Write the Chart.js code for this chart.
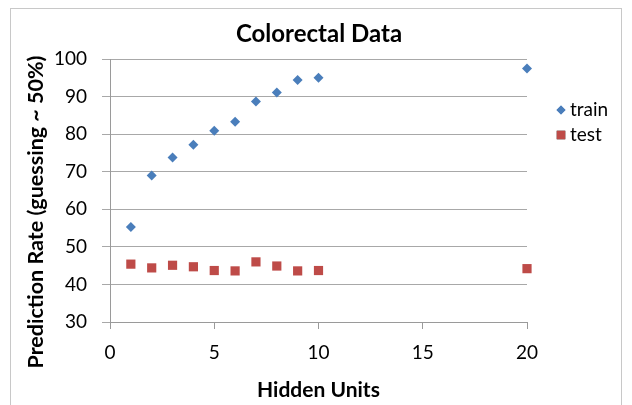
<!DOCTYPE html>
<html>
<head>
<meta charset="utf-8">
<script src="https://cdn.jsdelivr.net/npm/chart.js@4"></script>
<style>
  html, body { margin: 0; padding: 0; background: #fff; }
  #wrap { width: 632px; height: 405px; }
</style>
</head>
<body>
<div id="wrap"><canvas id="chart" width="632" height="405"></canvas></div>
<script>
// Hidden units on the x axis
const hiddenUnits = [1, 2, 3, 4, 5, 6, 7, 8, 9, 10, 20];
// Prediction rate (%)
const trainRate = [55.3, 69.0, 73.8, 77.2, 80.9, 83.3, 88.7, 91.1, 94.4, 95.0, 97.5];
const testRate = [45.4, 44.4, 45.1, 44.7, 43.7, 43.6, 46.0, 44.9, 43.6, 43.7, 44.2];
const seriesNames = ['train', 'test'];
const chartTitle = 'Colorectal Data';
const yTitle = 'Prediction Rate (guessing ~ 50%)';

const FONT = 'Lato, "Open Sans", sans-serif';

function toPoints(xs, ys) {
    return xs.map((x, i) => ({ x: x, y: ys[i] }));
}

// Frame round the whole chart, the title and the y axis title
// (Excel puts these a little off the plot centre, so they are drawn by hand)
const framePlugin = {
    id: 'frame',
    beforeDraw(chart) {
        const ctx = chart.ctx;
        ctx.save();
        ctx.strokeStyle = '#c8c8c8';
        ctx.lineWidth = 1;
        ctx.strokeRect(10.5, 8.5, 611, 420);
        ctx.fillStyle = '#000';
        ctx.font = 'bold 24px ' + FONT;
        ctx.textAlign = 'center';
        ctx.textBaseline = 'middle';
        ctx.fillText(chartTitle, 319, 34);

        ctx.translate(36, 212);
        ctx.rotate(-Math.PI / 2);
        ctx.font = 'bold 21.5px ' + FONT;
        ctx.fillText(yTitle, 0, 0);
        ctx.restore();
    }
};

// Legend on the right, drawn with each dataset's own marker style
const sideLegend = {
    id: 'sideLegend',
    afterDraw(chart) {
        const ctx = chart.ctx;
        ctx.save();
        chart.data.datasets.forEach((ds, i) => {
            const y = 110 + i * 25;
            Chart.helpers.drawPoint(ctx, {
                pointStyle: ds.pointStyle,
                radius: ds.pointStyle === 'rect' ? 6 : 4.5,
                borderWidth: 0
            }, 561, y);
            ctx.fillStyle = ds.backgroundColor;
            ctx.fill();
            ctx.fillStyle = '#000';
            ctx.font = '19px ' + FONT;
            ctx.textBaseline = 'middle';
            ctx.textAlign = 'left';
            ctx.fillText(ds.label, 570, y);
        });
        ctx.restore();
    }
};

const chart = new Chart(document.getElementById('chart'), {
    type: 'scatter',
    data: {
        datasets: [
            {
                label: seriesNames[0],
                data: toPoints(hiddenUnits, trainRate),
                pointStyle: 'rectRot',
                pointRadius: 5,
                pointHoverRadius: 5,
                borderWidth: 0,
                backgroundColor: '#4a7ebb',
                borderColor: '#4a7ebb',
                clip: false
            },
            {
                label: seriesNames[1],
                data: toPoints(hiddenUnits, testRate),
                pointStyle: 'rect',
                pointRadius: 6.5,
                pointHoverRadius: 6.5,
                borderWidth: 0,
                backgroundColor: '#be4b48',
                borderColor: '#be4b48',
                clip: false
            }
        ]
    },
    options: {
        responsive: false,
        animation: false,
        layout: { padding: { left: 19, right: 105, top: 59, bottom: 0 } },
        plugins: {
            legend: { display: false },
            tooltip: { enabled: false },
            title: { display: false }
        },
        scales: {
            x: {
                type: 'linear',
                min: 0,
                max: 20,
                afterFit: (s) => { s.height = 83; },
                ticks: {
                    stepSize: 5,
                    color: '#000',
                    padding: 12,
                    font: { family: FONT, size: 19 }
                },
                grid: {
                    drawOnChartArea: false,
                    drawTicks: true,
                    tickLength: 7,
                    color: '#9a9a9a'
                },
                border: { color: '#9a9a9a' },
                title: {
                    display: true,
                    text: 'Hidden Units',
                    color: '#000',
                    padding: { top: 4, bottom: 2 },
                    font: { family: FONT, size: 21, weight: 'bold' }
                }
            },
            y: {
                min: 30,
                max: 100,
                afterFit: (s) => { s.width = 91; },
                ticks: {
                    stepSize: 10,
                    color: '#000',
                    padding: 15,
                    font: { family: FONT, size: 19 }
                },
                grid: {
                    color: '#a8a8a8',
                    tickLength: 8
                },
                border: { color: '#9a9a9a' },
                title: { display: false }
            }
        }
    },
    plugins: [framePlugin, sideLegend]
});
</script>
</body>
</html>
